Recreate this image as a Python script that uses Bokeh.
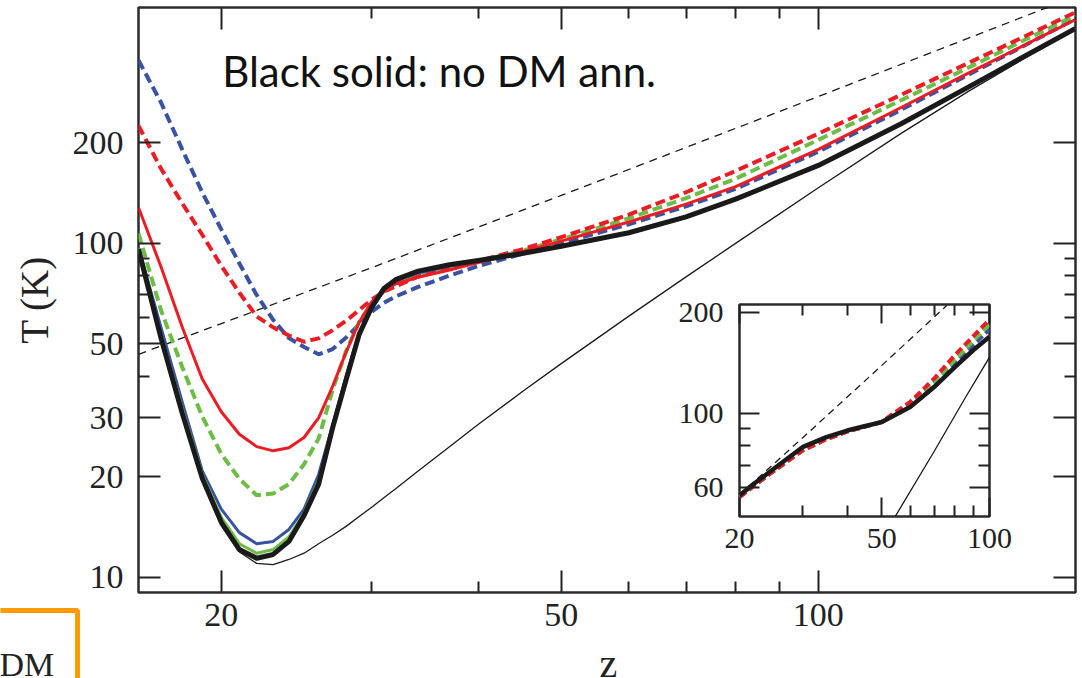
from bokeh.plotting import figure
from bokeh.models import Range1d, LogAxis, FixedTicker, NumeralTickFormatter, Label
from bokeh.embed import file_html
from bokeh.resources import INLINE
from bokeh.core.properties import value

# ---------------- main panel data ----------------
z = [16, 17, 18, 19, 20, 21, 22, 23, 24, 25, 26, 27, 28, 29, 30, 31, 32, 34, 37, 40,
     45, 50, 60, 70, 80, 100, 125, 150, 175, 200]
T_black = [96, 52, 31, 19.8, 14.6, 12.1, 11.4, 11.7, 12.8, 15.3, 19, 28, 39, 53.3, 64.3, 73.2, 77.8, 82.5, 86.2, 88.8,
           93.2, 98, 107.5, 120, 135.5, 171, 228, 294, 365, 440]
T_thin = [95, 51, 30.5, 19.4, 14.3, 11.9, 11.0, 10.9, 11.3, 11.8, 12.6, 13.35, 14.2, 15.2, 16.2, 17.3, 18.4, 20.8, 24.6, 28.7,
          35.9, 43.6, 60.5, 79.3, 99.9, 146.6, 213.3, 285.5, 359.8, 436.7]
T_green_solid = [96.5, 53, 32, 20.3, 15.1, 12.6, 11.8, 12.1, 13.2, 15.6, 19.5, 28.5, 39.5, 53.5, 64.5, 73, 77.6, 82.3, 86, 88.7,
                 93.1, 97.9, 107.4, 119.9, 135.4, 170.9, 227.9, 293.9, 364.9, 439.9]
T_blue_solid = [97, 56, 33.5, 20.8, 16.0, 13.6, 12.6, 12.8, 13.9, 16.0, 20.3, 28.5, 40, 54, 64, 72, 77, 81.5, 85.5, 88.6,
                93.0, 97.8, 107.3, 119.8, 135.3, 170.8, 227.8, 293.8, 364.8, 439.8]
T_red_solid = [128, 85, 56.1, 39.2, 31.3, 26.8, 24.6, 23.9, 24.4, 26.2, 30, 37.3, 47.2, 58, 66.8, 71.9, 75.6, 79.1, 83.2, 87.5,
               94.1, 101.5, 115.8, 131, 147.7, 191, 255, 323.5, 394, 467.5]
T_green_dash = [107, 63, 42.6, 30.3, 23.4, 19.7, 17.6, 17.8, 19.0, 21.8, 26, 36.4, 47.6, 58.1, 66.1, 71.8, 75.8, 79.5, 84, 88.4,
                94.9, 102.7, 118.8, 136.5, 156, 204, 268, 336, 408, 481]
T_red_dash = [225, 167.3, 131.8, 106, 85.6, 71.1, 60.4, 56.0, 52.9, 50.7, 51.9, 54.9, 58.6, 63.1, 67.8, 71.6, 74.3, 79.5, 85, 88.5,
              95.9, 104.3, 121.8, 142.1, 164.6, 212.8, 278.2, 347, 418, 491.5]
T_blue_dash = [353, 264, 191, 142, 110, 87, 70, 59, 52, 48.9, 46.5, 48.2, 52.2, 57.1, 62.4, 66.3, 69.3, 74, 80, 85.5,
               92.9, 100, 114, 129, 145.5, 188, 251, 320, 393, 470]
z_cmb = [16, 30, 50, 100, 200]
T_cmb = [46.5, 84.5, 139, 275, 548]

# ---------------- inset data ----------------
zi = [20, 22, 25, 30, 35, 40, 45, 50, 60, 70, 80, 90, 100]
Ti_black = [56.9, 61.8, 68.5, 79.3, 85, 88.9, 91.7, 94.2, 104.4, 119.8, 137.4, 154.2, 169]
Ti_red = [56.3, 61, 67.5, 77.5, 83.8, 88.3, 91.5, 94.5, 108.1, 126.9, 149, 169.5, 190.4]
Ti_green = [56.3, 61, 67.5, 77.5, 83.8, 88.3, 91.5, 94.4, 106.9, 124, 144.5, 164.4, 184]
Ti_blue = [56.3, 61, 67.5, 77.5, 83.8, 88.3, 91.4, 94.3, 105.7, 122.1, 141.3, 159.6, 177.8]
zi_thin = [54, 70, 85, 100]
Ti_thin = [48.5, 77, 110, 147]
zi_cmb = [20, 30, 45, 60, 76]
Ti_cmb = [57.2, 84.5, 125.4, 166.2, 209.8]

# ticks
x_major = [20, 50, 100]
x_minor = [30, 40, 60, 70, 80, 90]
y_major = [10, 20, 30, 50, 100, 200]
y_minor = [40, 60, 70, 80, 90]
yi_major = [60, 100, 200]
yi_minor = [70, 80, 90]

RED = "#ec1c24"
BLUE = "#3953a4"
GREEN = "#6cbd45"
BLACK = "#1a1a1a"
ORANGE = "#ff9a00"
INK = "#222222"
SERIF = "Liberation Serif"


def dress(ax, major, minor, labels, size="30px", major_len=22, minor_len=11, standoff=15):
    ax.ticker = FixedTicker(ticks=major, minor_ticks=minor)
    ax.formatter = NumeralTickFormatter(format="0")
    ax.major_tick_in = major_len
    ax.major_tick_out = 0
    ax.minor_tick_in = minor_len
    ax.minor_tick_out = 0
    ax.major_tick_line_width = 2
    ax.minor_tick_line_width = 2
    ax.major_tick_line_color = INK
    ax.minor_tick_line_color = INK
    ax.axis_line_color = None
    if labels:
        ax.major_label_text_font = SERIF
        ax.major_label_text_font_size = size
        ax.major_label_text_color = INK
        ax.major_label_standoff = standoff
    else:
        ax.major_label_text_font_size = "1px"
        ax.major_label_text_color = None
        ax.major_label_standoff = 0


# ---------------- main figure ----------------
p = figure(width=1082, height=678, x_axis_type="log", y_axis_type="log",
           x_range=Range1d(16, 200), y_range=Range1d(9.0, 508),
           output_backend="svg", toolbar_location=None, name="main",
           min_border_left=138, min_border_right=7, min_border_top=7, min_border_bottom=86)
p.grid.visible = False
p.outline_line_color = "#2b2b2b"
p.outline_line_width = 2.5
p.background_fill_color = "white"
p.border_fill_color = "white"

dress(p.xaxis[0], x_major, x_minor, True, size="34px", standoff=11)
dress(p.yaxis[0], y_major, y_minor, True, size="34px", standoff=15)
p.yaxis[0].axis_label = "T (K)"
p.yaxis[0].axis_label_text_font = SERIF
p.yaxis[0].axis_label_text_font_size = "39px"
p.yaxis[0].axis_label_text_font_style = "normal"
p.yaxis[0].axis_label_text_color = INK
p.yaxis[0].axis_label_standoff = 14

right_ax = LogAxis()
dress(right_ax, y_major, y_minor, False)
p.add_layout(right_ax, "right")
top_ax = LogAxis()
dress(top_ax, x_major, x_minor, False)
p.add_layout(top_ax, "above")

dash = "10 5"
p.line(z_cmb, T_cmb, line_color=BLACK, line_width=1.3, line_dash="8 6")
p.line(z, T_thin, line_color=BLACK, line_width=1.3)
p.line(z, T_blue_dash, line_color=BLUE, line_width=4, line_dash=dash)
p.line(z, T_green_dash, line_color=GREEN, line_width=4, line_dash=dash)
p.line(z, T_red_dash, line_color=RED, line_width=4, line_dash=dash)
p.line(z, T_blue_solid, line_color=BLUE, line_width=3, line_join="round")
p.line(z, T_green_solid, line_color=GREEN, line_width=3, line_join="round")
p.line(z, T_red_solid, line_color=RED, line_width=3, line_join="round")
p.line(z, T_black, line_color=BLACK, line_width=5, line_join="round")

p.add_layout(Label(x=20.05, y=327, text="Black solid: no DM ann.", text_font="Lato",
                   text_font_size="42px", text_color="#111111", text_baseline="alphabetic"))

# ---------------- inset figure ----------------
ins = figure(width=350, height=274, x_axis_type="log", y_axis_type="log",
             x_range=Range1d(20, 100), y_range=Range1d(49.3, 211),
             output_backend="svg", toolbar_location=None, name="inset",
             min_border_left=70, min_border_right=30, min_border_top=12, min_border_bottom=50)
ins.grid.visible = False
ins.outline_line_color = "#2b2b2b"
ins.outline_line_width = 2.5
ins.background_fill_color = "white"
ins.border_fill_alpha = 0
dress(ins.xaxis[0], x_major, x_minor, True, size="30px", major_len=19, minor_len=11, standoff=12)
dress(ins.yaxis[0], yi_major, yi_minor, True, size="30px", major_len=20, minor_len=11, standoff=16)
ir = LogAxis()
dress(ir, yi_major, yi_minor, False, major_len=20, minor_len=11)
ins.add_layout(ir, "right")
it = LogAxis()
dress(it, x_major, x_minor, False, major_len=19, minor_len=11)
ins.add_layout(it, "above")

ins.line(zi_cmb, Ti_cmb, line_color=BLACK, line_width=1.3, line_dash="7 5")
ins.line(zi_thin, Ti_thin, line_color=BLACK, line_width=1.3)
ins.line(zi, Ti_blue, line_color=BLUE, line_width=4, line_dash="8 4")
ins.line(zi, Ti_green, line_color=GREEN, line_width=4, line_dash="8 4")
ins.line(zi, Ti_red, line_color=RED, line_width=4, line_dash="8 4")
ins.line(zi, Ti_black, line_color=BLACK, line_width=4.5)

# ---------------- strip below the frame: x label and a fragment of the neighbouring panel ----------------
frag_box_x = [-10, 77, 77]
frag_box_y = [68, 68, -10]
strip = figure(width=1082, height=80, x_range=Range1d(0, 1082), y_range=Range1d(0, 80),
               output_backend="svg", toolbar_location=None, min_border=0, name="strip",
               x_axis_location=None, y_axis_location=None)
strip.grid.visible = False
strip.outline_line_color = None
strip.background_fill_alpha = 0
strip.border_fill_alpha = 0
strip.line(frag_box_x, frag_box_y, line_color=ORANGE, line_width=5)
strip.text(x=[-1], y=[14.5], text=["DM"], text_font=value(SERIF), text_font_size="34px",
           text_color=INK, text_baseline="alphabetic")
strip.text(x=[608], y=[15.5], text=["z"], text_font=value(SERIF), text_font_size="40px",
           text_color=INK, text_baseline="alphabetic", text_align="center")

TEMPLATE = """
{% block postamble %}
<style>
html, body { overflow: hidden; }
</style>
{% endblock %}
{% block contents %}
{% from macros import embed %}
{% for doc in docs %}
{% for root in doc.roots %}
<div style="position:absolute; left:{{ pos[root.name][0] }}px; top:{{ pos[root.name][1] }}px;">
{{ embed(root) }}
</div>
{% endfor %}
{% endfor %}
{% endblock %}
"""
positions = {"main": (0, 0), "inset": (669, 292), "strip": (0, 598)}

html = file_html([p, ins, strip], INLINE, title="T(z)", template=TEMPLATE,
                 template_variables={"pos": positions})
open("out.html", "w").write(html)
